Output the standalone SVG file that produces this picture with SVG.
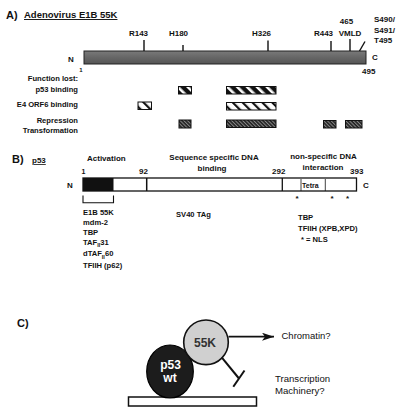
<svg xmlns="http://www.w3.org/2000/svg" width="400" height="413" viewBox="0 0 400 413">
<style>
text{font-family:"Liberation Sans",Arial,Helvetica,sans-serif;fill:#111}
.b{font-weight:bold}
.s8{font-size:8px}
.s75{font-size:7.5px}
.lbl{font-weight:bold;font-size:7.6px}
.tick{stroke:#111;stroke-width:1.4;fill:none}
.ln{stroke:#111;fill:none}
</style>
<defs>
<linearGradient id="barg" x1="0" y1="0" x2="0" y2="1">
<stop offset="0" stop-color="#7a7a7a"/>
<stop offset="0.5" stop-color="#666"/>
<stop offset="1" stop-color="#555"/>
</linearGradient>
<pattern id="hBW" width="7" height="7" patternUnits="userSpaceOnUse" patternTransform="rotate(-45)">
<rect width="7" height="7" fill="#111"/>
<rect width="2.6" height="7" fill="#fff"/>
</pattern>
<pattern id="hWB" width="7" height="7" patternUnits="userSpaceOnUse" patternTransform="rotate(-45)">
<rect width="7" height="7" fill="#fff"/>
<rect width="2.2" height="7" fill="#111"/>
</pattern>
<pattern id="hD" width="2.6" height="2.6" patternUnits="userSpaceOnUse" patternTransform="rotate(-45)">
<rect width="2.6" height="2.6" fill="#222"/>
<rect width="1" height="2.6" fill="#888"/>
</pattern>
<marker id="arr" markerWidth="12" markerHeight="8" refX="12" refY="4" orient="auto" markerUnits="userSpaceOnUse">
<path d="M0,0 L12,4 L0,8 L3,4 Z" fill="#111"/>
</marker>
</defs>

<!-- Panel A -->
<g id="panelA">
<text x="6" y="18.5" class="b" font-size="11">A)</text>
<text x="24" y="18" class="b" font-size="9.5" text-decoration="underline">Adenovirus E1B 55K</text>
</g>
<g id="e1b-bar">
<rect x="84" y="51" width="282" height="13" fill="url(#barg)" stroke="#222" stroke-width="1"/>
<text x="68" y="61.5" class="b s8">N</text>
<text x="372" y="60" class="b s8">C</text>
<text x="81" y="72" class="b" font-size="6" text-anchor="middle">1</text>
<text x="362" y="74" class="b s8">495</text>
</g>
<g id="mutations">
<line class="tick" x1="144" y1="40" x2="144" y2="51"/>
<text x="138.5" y="36" class="b s8" text-anchor="middle">R143</text>
<line class="tick" x1="183" y1="45" x2="183" y2="51"/>
<text x="178.5" y="36" class="b s8" text-anchor="middle">H180</text>
<line class="tick" x1="268" y1="40.5" x2="268" y2="51"/>
<text x="261.5" y="36" class="b s8" text-anchor="middle">H326</text>
<line class="tick" x1="331" y1="41" x2="331" y2="51"/>
<text x="323.5" y="36" class="b s8" text-anchor="middle">R443</text>
<line class="tick" x1="350" y1="39" x2="350" y2="51"/>
<text x="346.5" y="24" class="b s8" text-anchor="middle">465</text>
<text x="350" y="36" class="b s8" text-anchor="middle">VMLD</text>
<line class="tick" x1="359.5" y1="51" x2="365" y2="41.5" stroke-width="1.8"/>
<text x="374" y="22" class="b s8">S490/</text>
<text x="374" y="33" class="b s8">S491/</text>
<text x="374" y="43" class="b s8">T495</text>
</g>
<g id="function-lost">
<text x="78" y="80.5" class="lbl" text-anchor="end">Function lost:</text>
<text x="78" y="92" class="lbl" text-anchor="end">p53 binding</text>
<text x="78" y="107" class="lbl" text-anchor="end">E4 ORF6 binding</text>
<text x="78" y="123" class="lbl" text-anchor="end">Repression</text>
<text x="78" y="133" class="lbl" text-anchor="end">Transformation</text>
</g>
<g id="hatched-regions" stroke="#111" stroke-width="1">
<rect x="178.5" y="86.5" width="13" height="7.5" fill="url(#hBW)"/>
<rect x="226.5" y="86.5" width="49.5" height="7.5" fill="url(#hBW)"/>
<rect x="138" y="102" width="13.5" height="7.5" fill="url(#hWB)"/>
<rect x="226.5" y="102.5" width="49.5" height="7.5" fill="url(#hWB)"/>
<rect x="179" y="120" width="12" height="8" fill="url(#hD)"/>
<rect x="226.5" y="120" width="49.5" height="7.5" fill="url(#hD)"/>
<rect x="323.5" y="120.5" width="12.5" height="7.5" fill="url(#hD)"/>
<rect x="345.5" y="120.5" width="16.5" height="7.5" fill="url(#hD)"/>
</g>

<!-- Panel B -->
<g id="panelB">
<text x="12" y="163" class="b" font-size="11">B)</text>
<text x="32" y="163" class="b s8" text-decoration="underline">p53</text>
<text x="87" y="161" class="b s8">Activation</text>
<text x="214" y="160" class="b s8" text-anchor="middle">Sequence specific DNA</text>
<text x="212" y="170.5" class="b s8" text-anchor="middle">binding</text>
<text x="323.5" y="159" class="b s8" text-anchor="middle">non-specific DNA</text>
<text x="323" y="169.5" class="b s8" text-anchor="middle">interaction</text>
</g>
<g id="p53-bar">
<rect x="83" y="178" width="273.5" height="13" fill="#fff" stroke="#111" stroke-width="1.3"/>
<rect x="83" y="178" width="30.5" height="13" fill="#111"/>
<line class="ln" x1="146.7" y1="178" x2="146.7" y2="191" stroke-width="1.5"/>
<line class="ln" x1="282.3" y1="178" x2="282.3" y2="191" stroke-width="1.3"/>
<line class="ln" x1="301" y1="179" x2="301" y2="191" stroke-width="0.8"/>
<line class="ln" x1="325.3" y1="179" x2="325.3" y2="191" stroke-width="0.8"/>
<text x="302" y="188" class="b" font-size="7">Tetra</text>
<text x="67" y="187.5" class="b s8">N</text>
<text x="363" y="188" class="b s8">C</text>
<text x="81.5" y="174" class="b" font-size="7">1</text>
<text x="139" y="174" class="b s8">92</text>
<text x="272" y="174" class="b s8">292</text>
<text x="350" y="173.5" class="b s8">393</text>
<text x="297" y="201" class="b s8" text-anchor="middle">*</text>
<text x="332" y="201" class="b s8" text-anchor="middle">*</text>
<text x="347.5" y="201" class="b s8" text-anchor="middle">*</text>
</g>
<g id="bracket">
<path class="ln" d="M83,195.5 V202.7 H113.5 V195.5" stroke-width="1.1"/>
</g>
<g id="binding-partners">
<text x="83" y="214.5" class="lbl">E1B 55K</text>
<text x="83" y="224.5" class="lbl">mdm-2</text>
<text x="83" y="234.5" class="lbl">TBP</text>
<text x="83" y="244.5" class="lbl">TAF<tspan font-size="5.5" dy="2.5">II</tspan><tspan dy="-2.5">31</tspan></text>
<text x="83" y="256" class="lbl">dTAF<tspan font-size="5.5" dy="2.5">II</tspan><tspan dy="-2.5">60</tspan></text>
<text x="83" y="268" class="lbl">TFIIH (p62)</text>
<text x="176" y="217" class="lbl">SV40 TAg</text>
<text x="298" y="220" class="lbl">TBP</text>
<text x="298" y="230.5" class="lbl">TFIIH (XPB,XPD)</text>
<text x="301" y="241.5" class="lbl">* = NLS</text>
</g>

<!-- Panel C -->
<g id="panelC">
<text x="17" y="327" class="b" font-size="11">C)</text>
</g>
<g id="dna">
<rect x="128.5" y="397" width="128" height="9" fill="#fff" stroke="#111" stroke-width="1.5"/>
</g>
<g id="p53wt">
<ellipse cx="170" cy="371.5" rx="23.3" ry="26.5" fill="#1c1c1c" stroke="#000" stroke-width="1.2"/>
<text x="170.5" y="368.5" class="b" font-size="12" text-anchor="middle" style="fill:#fff">p53</text>
<text x="170" y="382" class="b" font-size="12" text-anchor="middle" style="fill:#fff">wt</text>
</g>
<g id="e1b55k">
<circle cx="206" cy="342.3" r="22.3" fill="#d0d0d0" stroke="#111" stroke-width="1.6"/>
<text x="205" y="346.5" class="b" font-size="12" text-anchor="middle" style="fill:#333">55K</text>
</g>
<g id="connectors">
<line x1="228.5" y1="336.7" x2="274" y2="336.7" stroke="#111" stroke-width="1.8" marker-end="url(#arr)"/>
<line x1="221.7" y1="357.3" x2="239" y2="378.5" stroke="#111" stroke-width="2"/>
<line x1="233.3" y1="386.7" x2="244.5" y2="370.5" stroke="#111" stroke-width="2"/>
</g>
<g id="targets">
<text x="281.5" y="338.5" font-size="9.5">Chromatin?</text>
<text x="275" y="382.3" font-size="9.6">Transcription</text>
<text x="275" y="394" font-size="9.6">Machinery?</text>
</g>
</svg>
